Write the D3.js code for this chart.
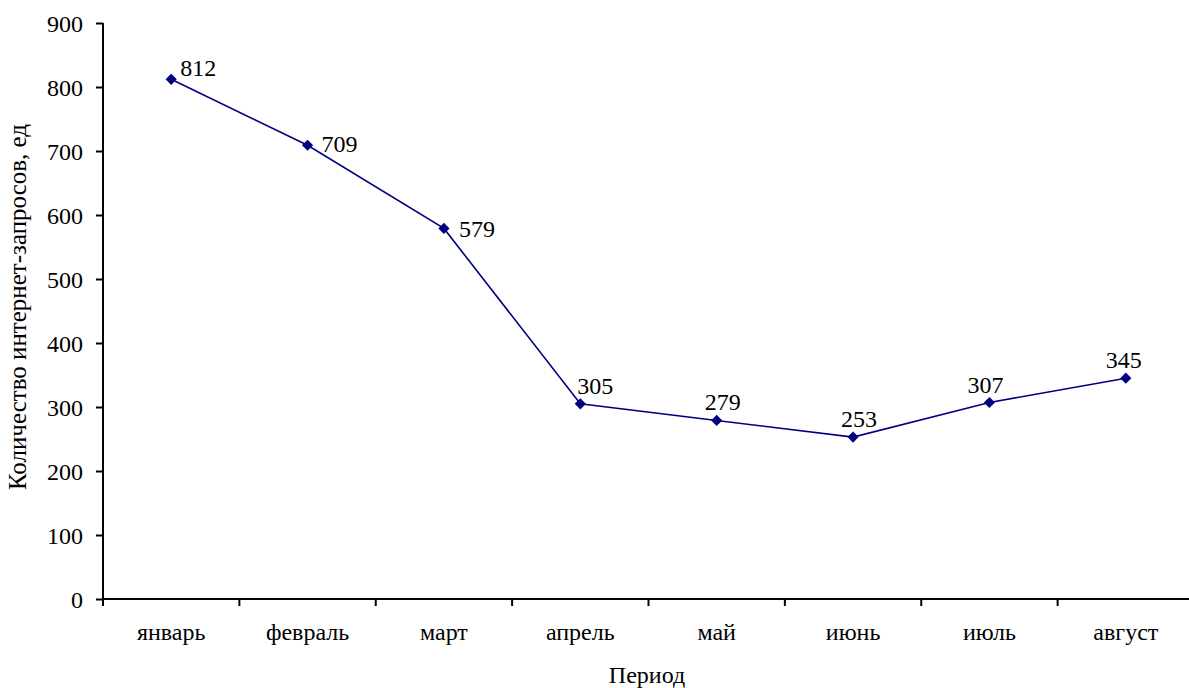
<!DOCTYPE html>
<html>
<head>
<meta charset="utf-8">
<script src="https://cdn.jsdelivr.net/npm/d3@7"></script>
<style>
  html, body { margin: 0; padding: 0; background: #fff; }
</style>
</head>
<body>
<svg id="chart" width="1189" height="688"></svg>
<script>
// Monthly counts of internet requests
const months = ["январь", "февраль", "март", "апрель", "май", "июнь", "июль", "август"];
const requests = [812, 709, 579, 305, 279, 253, 307, 345];
const yTicks = [0, 100, 200, 300, 400, 500, 600, 700, 800, 900];
const yTitle = "Количество интернет-запросов, ед";
const xTitle = "Период";

const svg = d3.select("#chart");
const plot = { left: 103, right: 1194, top: 23, bottom: 599 };
const serif = "'Liberation Serif', 'Times New Roman', serif";
const fontSize = "24px";
const styleText = sel => sel.style("font-family", serif).style("font-size", fontSize).attr("fill", "#000");

const x = d3.scaleBand().domain(months).range([plot.left, plot.right]);
const y = d3.scaleLinear().domain([0, 900]).range([plot.bottom, plot.top]);
const cx = m => x(m) + x.bandwidth() / 2;

// Y axis
const yAxis = svg.append("g")
  .attr("transform", `translate(${plot.left},0)`)
  .call(d3.axisLeft(y).tickValues(yTicks).tickSize(7).tickPadding(13).tickFormat(d3.format("d")));
yAxis.selectAll("text").call(styleText).attr("dy", "0.35em");
yAxis.selectAll("line, path").attr("stroke", "#000").attr("stroke-width", 2);
yAxis.select(".domain").attr("d", `M0,${plot.top}V${plot.bottom}`);

// X axis: ticks sit on category boundaries
const xAxis = svg.append("g").attr("transform", `translate(0,${plot.bottom})`);
xAxis.append("line")
  .attr("x1", plot.left).attr("x2", plot.right)
  .attr("stroke", "#000").attr("stroke-width", 2);
const bounds = months.map(m => x(m)).concat([plot.right]);
xAxis.selectAll("line.tick").data(bounds).join("line")
  .attr("class", "tick")
  .attr("x1", d => d).attr("x2", d => d)
  .attr("y1", 0).attr("y2", 7)
  .attr("stroke", "#000").attr("stroke-width", 2);
xAxis.selectAll("text.cat").data(months).join("text")
  .attr("class", "cat")
  .attr("x", d => cx(d)).attr("y", 41)
  .attr("text-anchor", "middle")
  .call(styleText)
  .text(d => d);

// Axis titles
svg.append("text")
  .attr("transform", `translate(26,307) rotate(-90)`)
  .attr("text-anchor", "middle")
  .call(styleText)
  .style("font-size", "25px")
  .text(yTitle);
svg.append("text")
  .attr("x", 647).attr("y", 683)
  .attr("text-anchor", "middle")
  .call(styleText)
  .text(xTitle);

// Series line
const color = "#000080";
svg.append("path")
  .datum(requests)
  .attr("fill", "none")
  .attr("stroke", color)
  .attr("stroke-width", 1.6)
  .attr("d", d3.line().x((d, i) => cx(months[i])).y(d => y(d)));

// Diamond markers
svg.selectAll("path.marker").data(requests).join("path")
  .attr("class", "marker")
  .attr("d", d3.symbol().type(d3.symbolDiamond2).size(80))
  .attr("transform", (d, i) => `translate(${cx(months[i])},${y(d)})`)
  .attr("fill", color);

// Value labels: right of the point for the first three, above for the rest
const labelOffset = [
  [9, -3], [14, 7], [15, 9],
  [15, -10], [6, -10], [6, -10], [-4, -10], [-2, -10]
];
svg.selectAll("text.val").data(requests).join("text")
  .attr("class", "val")
  .attr("x", (d, i) => cx(months[i]) + labelOffset[i][0])
  .attr("y", (d, i) => y(d) + labelOffset[i][1])
  .attr("text-anchor", (d, i) => i < 3 ? "start" : "middle")
  .call(styleText)
  .text(d => d);
</script>
</body>
</html>
